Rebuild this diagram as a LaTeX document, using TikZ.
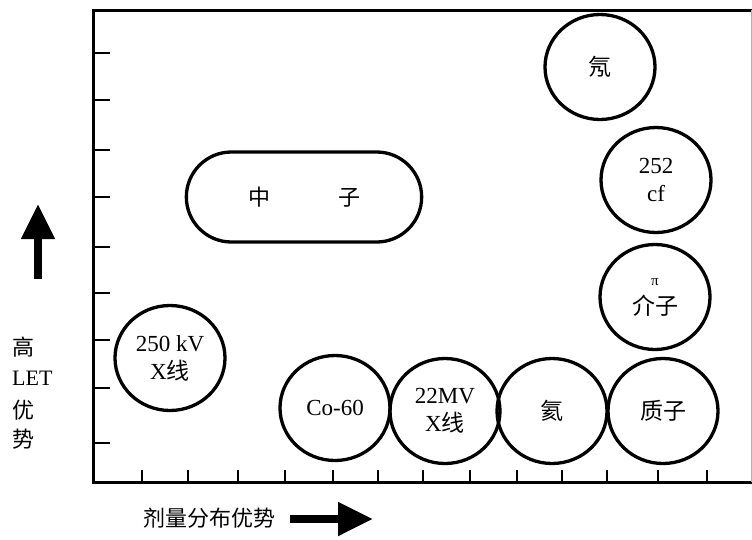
\documentclass[tikz,border=0pt]{standalone}
\usepackage{fontspec}
\setmainfont{Liberation Serif}
\newfontfamily\cjk{Noto Sans CJK SC}
\usetikzlibrary{shapes.geometric,shapes.misc,arrows.meta}
\begin{document}
\begin{tikzpicture}[x=1pt,y=-1pt,
  ball/.style={draw, ellipse, line width=3.3pt, minimum width=110pt, minimum height=105pt,
    inner sep=0pt, align=center, font=\fontsize{23}{28}\selectfont},
  axis/.style={line width=3pt},
  tick/.style={line width=2pt},
  bigarrow/.style={line width=8pt, -{Triangle[width=32pt,length=35pt]}},
  lbl/.style={font=\fontsize{22}{30}\selectfont\cjk, inner sep=0pt}]
\useasboundingbox (0,0) rectangle (752,539);
% frame
\coordinate (tl) at (93,10);
\coordinate (bl) at (93,482);
\coordinate (tr) at (752,10);
\coordinate (br) at (752,482);
\draw[axis] (tr) -- (tl) -- (bl) -- (br);
\draw[line width=1pt, gray!60] (751,10) -- (751,482);
% left ticks
\foreach \y in {53,100,150,197,247,293,340,388,443}
  \draw[tick] (93,\y) -- (110,\y);
% bottom ticks
\foreach \x in {142,188,238,285,333,378,423,470,517,562,607,658,707}
  \draw[tick] (\x,482) -- (\x,470);
% neutron box
\node[draw, rounded rectangle, line width=3.3pt, minimum width=242pt, minimum height=90pt,
  font=\fontsize{22}{28}\selectfont\cjk] (neutron) at (304,197) {中\hspace{68pt}子};
% circles
\node[ball] (neon) at (600,67) {\cjk 氖};
\node[ball] (cf) at (656,180) {252\\cf};
\node[ball] (pion) at (655,297) {{\fontsize{15}{15}\selectfont π}\\[1pt]{\cjk 介子}};
\node[ball] (proton) at (663,411) {\cjk 质子};
\node[ball] (helium) at (552,411) {\cjk 氦};
\node[ball] (mv) at (445,411) {22MV\\X{\cjk 线}};
\node[ball] (co) at (335,408) {Co-60};
\node[ball] (kv) at (170,358) {250 kV\\X{\cjk 线}};
% axis labels
\node[lbl, anchor=west] (h1) at (12,347) {高};
\node[anchor=west, inner sep=0pt, font=\fontsize{22}{30}\selectfont] (h2) at (12,378) {LET};
\node[lbl, anchor=west] (h3) at (12,410) {优};
\node[lbl, anchor=west] (h4) at (12,439) {势};
\node[lbl] (xl) at (209,518) {剂量分布优势};
% arrows
\coordinate (ua) at (38,279);
\coordinate (ub) at (38,204);
\draw[bigarrow] (ua) -- (ub);
\coordinate (ra) at (290,519);
\coordinate (rb) at (373,519);
\draw[bigarrow] (ra) -- (rb);
\end{tikzpicture}
\end{document}
